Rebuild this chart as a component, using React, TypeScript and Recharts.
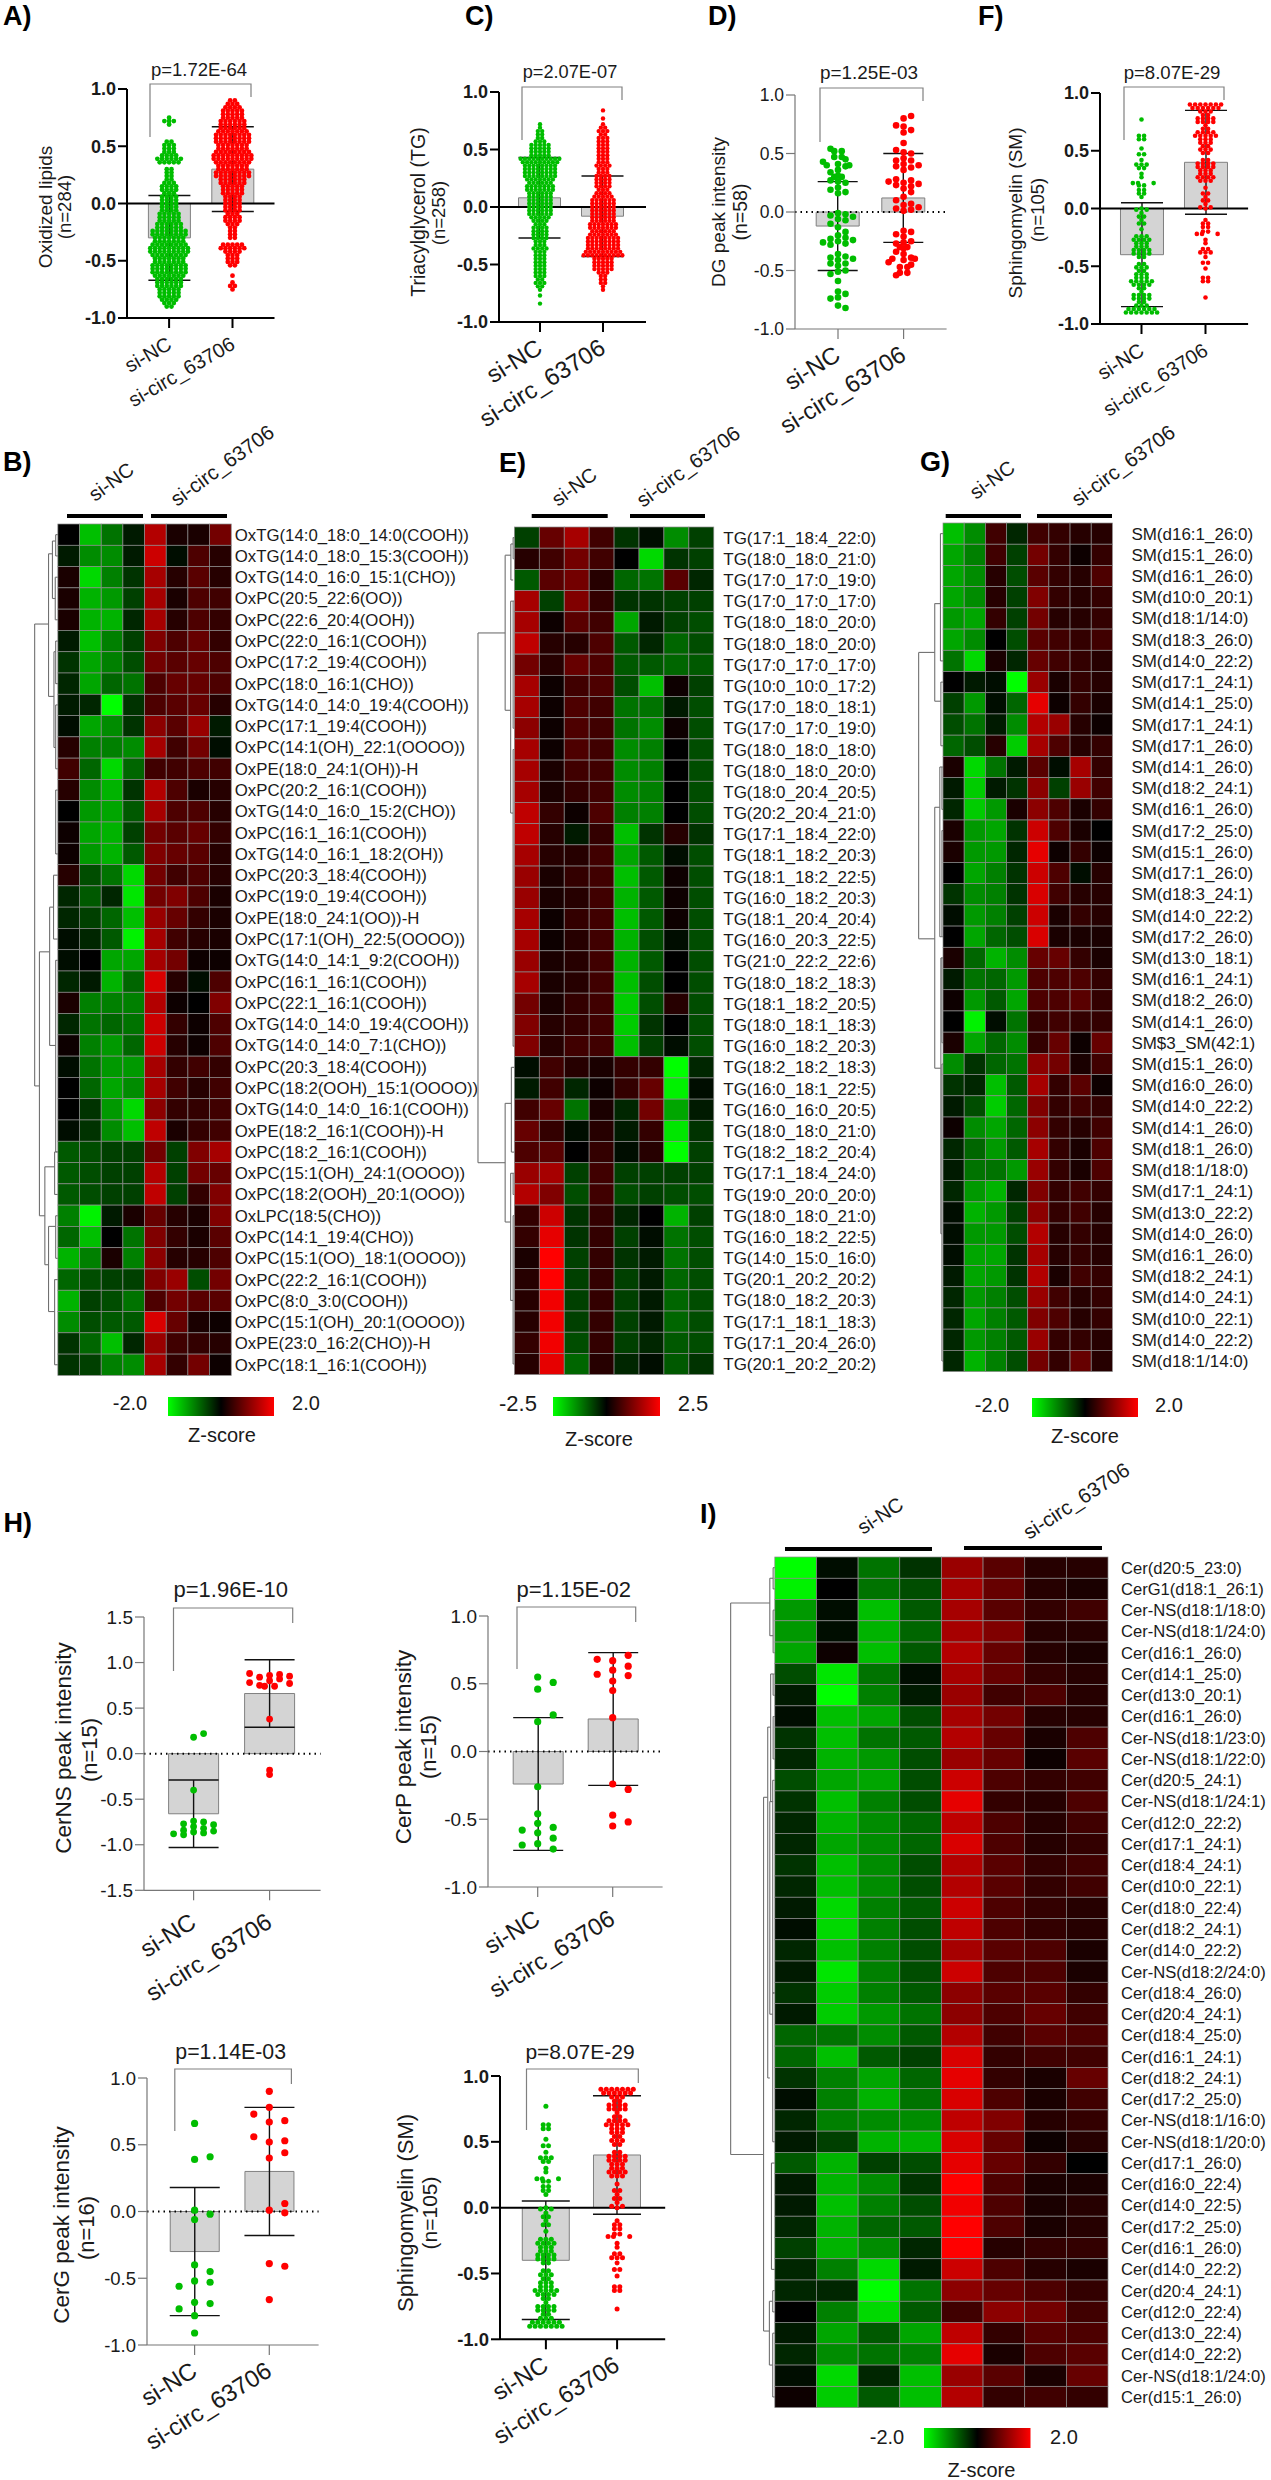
import React from "react";
import { ComposedChart, ScatterChart, Bar, Scatter, ErrorBar, XAxis, YAxis, ReferenceLine } from "recharts";

const FONT = "'Liberation Sans', Arial, sans-serif";
const GREEN = "#00bd00";
const RED = "#ff0000";
const groups = ["si-NC", "si-circ_63706"];

// ---- swarm values: [level in hundredths, number of dots read at that level]
const aNcRows = [[-90,2],[-87,3],[-84,4],[-81,5],[-78,5],[-75,5],[-72,6],[-69,6],[-66,6],[-63,7],[-60,8],[-57,8],[-54,8],[-51,7],[-48,7],[-45,8],[-42,9],[-39,9],[-36,8],[-33,7],[-30,7],[-27,8],[-24,8],[-21,6],[-18,6],[-15,5],[-12,5],[-9,5],[-6,4],[-3,4],[0,4],[3,4],[6,4],[9,3],[12,4],[15,4],[18,3],[21,2],[24,2],[27,2],[30,2],[36,5],[39,6],[42,4],[45,3],[48,3],[51,3],[54,2],[69,1],[72,3],[75,1]];
const aCircRows = [[90,2],[87,3],[84,4],[81,5],[78,5],[75,5],[72,6],[69,6],[66,6],[63,7],[60,8],[57,8],[54,8],[51,7],[48,7],[45,8],[42,9],[39,9],[36,8],[33,7],[30,7],[27,8],[24,8],[21,6],[18,6],[15,5],[12,5],[9,5],[6,4],[3,4],[0,4],[-3,4],[-6,4],[-9,3],[-12,4],[-15,4],[-18,3],[-21,2],[-24,2],[-27,2],[-30,2],[-36,5],[-39,6],[-42,4],[-45,3],[-48,3],[-51,3],[-54,2],[-63,1],[-69,1],[-72,2],[-75,1]];
const cNcRows = [[72,1],[69,1],[66,2],[63,2],[60,2],[57,3],[54,5],[51,5],[48,5],[45,5],[42,10],[39,9],[36,8],[33,8],[30,8],[27,8],[24,7],[21,6],[18,7],[15,7],[12,6],[9,6],[6,6],[3,6],[0,6],[-3,6],[-6,6],[-9,5],[-12,4],[-15,3],[-18,4],[-21,4],[-24,4],[-27,4],[-30,3],[-33,3],[-36,4],[-39,3],[-42,3],[-45,3],[-48,3],[-51,3],[-54,3],[-57,3],[-60,3],[-63,2],[-66,3],[-69,2],[-72,1],[-77,1],[-84,1]];
const cCircRows = [[84,1],[77,1],[72,1],[69,2],[66,3],[63,2],[60,3],[57,3],[54,3],[51,3],[48,3],[45,3],[42,3],[39,3],[36,4],[33,3],[30,3],[27,4],[24,4],[21,4],[18,4],[15,3],[12,4],[9,5],[6,6],[3,6],[0,6],[-3,6],[-6,6],[-9,6],[-12,6],[-15,7],[-18,7],[-21,6],[-24,7],[-27,8],[-30,8],[-33,8],[-36,8],[-39,9],[-42,10],[-45,5],[-48,5],[-51,5],[-54,5],[-57,3],[-60,2],[-63,2],[-66,2],[-69,1],[-72,1]];
const fNcRows = [[77,1],[63,2],[60,2],[52,1],[47,2],[42,1],[38,3],[35,2],[30,1],[27,1],[22,3],[20,2],[16,2],[13,2],[10,1],[0,1],[-1,2],[-4,1],[-7,2],[-10,1],[-13,2],[-18,1],[-24,3],[-27,4],[-30,3],[-33,3],[-36,4],[-39,4],[-42,2],[-48,2],[-51,3],[-54,2],[-57,3],[-60,3],[-63,5],[-66,4],[-69,2],[-72,1],[-75,4],[-78,4],[-81,2],[-84,3],[-87,6],[-90,7]];
const fCircRows = [[90,7],[87,6],[84,3],[81,2],[78,4],[75,4],[72,1],[69,2],[66,4],[63,5],[60,3],[57,3],[54,2],[51,3],[48,2],[42,2],[39,4],[36,4],[33,3],[30,3],[27,4],[24,3],[18,1],[13,2],[10,1],[7,2],[4,1],[1,2],[0,1],[-10,1],[-13,2],[-16,2],[-20,2],[-22,3],[-27,1],[-30,1],[-35,2],[-38,3],[-42,1],[-47,2],[-52,1],[-60,2],[-63,2],[-77,1]];
const dNcValues = [.54,.52,.52,.47,.47,.45,.43,.41,.40,.40,.39,.36,.34,.31,.30,.30,.27,.26,.25,.21,.19,.17,.16,-.01,-.02,-.03,-.04,-.06,-.07,-.10,-.13,-.17,-.20,-.22,-.23,-.24,-.25,-.26,-.27,-.28,-.36,-.38,-.39,-.40,-.41,-.44,-.44,-.46,-.50,-.51,-.53,-.59,-.68,-.70,-.73,-.74,-.80,-.82];
const dCircValues = [.82,.80,.74,.73,.70,.68,.59,.53,.51,.50,.46,.44,.44,.41,.40,.39,.38,.36,.28,.27,.26,.25,.24,.23,.22,.20,.17,.13,.10,.07,.06,.04,.03,.02,.01,-.16,-.17,-.19,-.21,-.25,-.26,-.27,-.30,-.30,-.31,-.34,-.36,-.39,-.40,-.40,-.41,-.43,-.45,-.47,-.47,-.52,-.52,-.54];
const h1NcValues = [.22,.18,-.40,-.74,-.75,-.77,-.78,-.80,-.82,-.84,-.85,-.86,-.87,-.88,-.89];
const h1CircValues = [.88,.87,.86,.85,.84,.82,.80,.78,.77,.75,.74,.74,.38,-.18,-.23];
const h2NcValues = [.55,.51,.46,.27,.22,-.26,-.46,-.53,-.56,-.58,-.60,-.64,-.68,-.69,-.72];
const h2CircValues = [.71,.68,.67,.63,.60,.57,.56,.52,.45,.25,-.24,-.28,-.47,-.52,-.55];
const h3NcValues = [.66,.41,.39,.01,-.02,-.06,-.40,-.45,-.52,-.53,-.56,-.68,-.69,-.73,-.78,-.91];
const h3CircValues = [.90,.78,.73,.68,.67,.56,.53,.52,.44,.40,.06,.01,-.01,-.39,-.41,-.66];

// ---- heatmap labels and levels (-20 full green ... 20 full red)
const bLabels = ["OxTG(14:0_18:0_14:0(COOH))","OxTG(14:0_18:0_15:3(COOH))","OxTG(14:0_16:0_15:1(CHO))","OxPC(20:5_22:6(OO))","OxPC(22:6_20:4(OOH))","OxPC(22:0_16:1(COOH))","OxPC(17:2_19:4(COOH))","OxPC(18:0_16:1(CHO))","OxTG(14:0_14:0_19:4(COOH))","OxPC(17:1_19:4(COOH))","OxPC(14:1(OH)_22:1(OOOO))","OxPE(18:0_24:1(OH))-H","OxPC(20:2_16:1(COOH))","OxTG(14:0_16:0_15:2(CHO))","OxPC(16:1_16:1(COOH))","OxTG(14:0_16:1_18:2(OH))","OxPC(20:3_18:4(COOH))","OxPC(19:0_19:4(COOH))","OxPE(18:0_24:1(OO))-H","OxPC(17:1(OH)_22:5(OOOO))","OxTG(14:0_14:1_9:2(COOH))","OxPC(16:1_16:1(COOH))","OxPC(22:1_16:1(COOH))","OxTG(14:0_14:0_19:4(COOH))","OxTG(14:0_14:0_7:1(CHO))","OxPC(20:3_18:4(COOH))","OxPC(18:2(OOH)_15:1(OOOO))","OxTG(14:0_14:0_16:1(COOH))","OxPE(18:2_16:1(COOH))-H","OxPC(18:2_16:1(COOH))","OxPC(15:1(OH)_24:1(OOOO))","OxPC(18:2(OOH)_20:1(OOO))","OxLPC(18:5(CHO))","OxPC(14:1_19:4(CHO))","OxPC(15:1(OO)_18:1(OOOO))","OxPC(22:2_16:1(COOH))","OxPC(8:0_3:0(COOH))","OxPC(15:1(OH)_20:1(OOOO))","OxPE(23:0_16:2(CHO))-H","OxPC(18:1_16:1(COOH))"];
const bLevels = [[0,-15,-9,-2,14,2,2,9],[-2,-11,-11,-2,16,-1,6,3],[2,-17,-10,-4,13,3,7,3],[2,-14,-12,-5,13,2,6,5],[2,-14,-14,-3,13,3,6,4],[-2,-15,-10,-5,10,6,8,4],[-4,-13,-10,-6,9,7,8,6],[-3,-13,-8,-9,6,8,8,6],[-2,-3,-20,-4,6,7,8,3],[-1,-13,-11,-4,11,7,12,-2],[3,-10,-10,-11,13,5,9,-1],[5,-8,-17,-8,5,5,6,5],[3,-11,-14,-4,14,6,2,3],[0,-12,-13,-7,13,6,6,3],[1,-13,-14,-5,9,7,8,4],[1,-12,-14,-7,10,8,7,3],[3,-6,-9,-17,9,5,6,3],[-3,-7,-3,-18,9,10,6,2],[-3,-5,-8,-15,12,8,4,2],[-1,-3,-7,-19,13,5,3,2],[-1,0,-13,-13,13,9,1,1],[-3,-2,-14,-8,17,3,-1,6],[2,-10,-10,-10,14,1,0,10],[-3,-9,-8,-9,16,4,1,6],[1,-10,-12,-8,16,3,1,6],[-1,-9,-12,-12,13,4,5,4],[0,-8,-13,-11,13,5,3,5],[0,-4,-12,-17,11,4,4,5],[-1,-4,-11,-15,15,2,4,5],[-7,-6,-5,-5,9,-5,10,13],[-7,-6,-5,-5,14,-5,9,8],[-7,-6,-5,-5,15,-5,4,10],[-10,-19,-2,2,8,3,2,10],[-8,-15,0,-9,10,4,2,7],[-14,-10,2,-10,11,3,3,6],[-8,-6,-5,-5,10,12,-6,9],[-14,-5,-6,-9,6,9,7,7],[-11,-6,-7,-7,17,8,2,1],[-4,-8,-15,-3,12,5,4,3],[-4,-5,-10,-11,13,4,9,1]];
const eLabels = ["TG(17:1_18:4_22:0)","TG(18:0_18:0_21:0)","TG(17:0_17:0_19:0)","TG(17:0_17:0_17:0)","TG(18:0_18:0_20:0)","TG(18:0_18:0_20:0)","TG(17:0_17:0_17:0)","TG(10:0_10:0_17:2)","TG(17:0_18:0_18:1)","TG(17:0_17:0_19:0)","TG(18:0_18:0_18:0)","TG(18:0_18:0_20:0)","TG(18:0_20:4_20:5)","TG(20:2_20:4_21:0)","TG(17:1_18:4_22:0)","TG(18:1_18:2_20:3)","TG(18:1_18:2_22:5)","TG(16:0_18:2_20:3)","TG(18:1_20:4_20:4)","TG(16:0_20:3_22:5)","TG(21:0_22:2_22:6)","TG(18:0_18:2_18:3)","TG(18:1_18:2_20:5)","TG(18:0_18:1_18:3)","TG(16:0_18:2_20:3)","TG(18:2_18:2_18:3)","TG(16:0_18:1_22:5)","TG(16:0_16:0_20:5)","TG(18:0_18:0_21:0)","TG(18:2_18:2_20:4)","TG(17:1_18:4_24:0)","TG(19:0_20:0_20:0)","TG(18:0_18:0_21:0)","TG(16:0_18:2_22:5)","TG(14:0_15:0_16:0)","TG(20:1_20:2_20:2)","TG(18:0_18:2_20:3)","TG(17:1_18:1_18:3)","TG(17:1_20:4_26:0)","TG(20:1_20:2_20:2)"];
const eLevels = [[-5,8,13,5,-4,-1,-11,-5],[3,5,9,5,0,-17,-4,-5],[-7,7,9,3,-8,-9,7,-3],[13,-5,10,4,-4,-4,-5,-5],[13,1,7,5,-13,-2,-5,-6],[15,3,3,6,-7,-3,-8,-6],[9,3,8,6,-7,-7,-8,-7],[13,1,5,6,-6,-15,1,-5],[13,1,6,5,-9,-9,-2,-6],[11,1,6,5,-9,-11,1,-6],[13,1,6,5,-11,-10,0,-6],[13,2,5,5,-11,-10,0,-6],[13,2,4,5,-11,-10,0,-6],[15,4,1,6,-10,-10,0,-6],[15,3,-2,4,-15,-4,3,-4],[13,3,3,5,-13,-7,-1,-6],[12,2,4,5,-15,-7,1,-6],[12,2,3,5,-14,-7,1,-6],[13,1,4,5,-15,-7,1,-6],[13,1,3,5,-14,-6,-1,-6],[12,2,3,5,-14,-7,0,-6],[13,2,3,5,-15,-6,0,-6],[9,2,4,5,-16,-6,3,-6],[10,3,4,5,-16,-4,0,-6],[10,3,5,5,-15,-5,-1,-6],[-1,5,3,2,4,4,-20,-3],[-2,5,-3,1,4,8,-19,-1],[5,8,-9,2,-3,9,-13,-2],[8,4,-1,3,-2,4,-18,-4],[6,7,0,4,-1,3,-20,-5],[12,13,-5,5,-5,-5,-5,-5],[14,10,-6,5,-6,-5,-6,-6],[4,16,-4,4,-3,0,-14,-5],[4,18,-4,4,-5,-1,-9,-6],[2,20,-5,4,-4,-2,-9,-6],[3,20,-5,4,-5,-2,-8,-6],[3,19,-5,4,-5,-2,-8,-6],[3,19,-5,4,-5,-2,-8,-6],[4,19,-6,4,-5,-3,-7,-6],[3,18,-8,3,-3,-1,-7,-4]];
const gLabels = ["SM(d16:1_26:0)","SM(d15:1_26:0)","SM(d16:1_26:0)","SM(d10:0_20:1)","SM(d18:1/14:0)","SM(d18:3_26:0)","SM(d14:0_22:2)","SM(d17:1_24:1)","SM(d14:1_25:0)","SM(d17:1_24:1)","SM(d17:1_26:0)","SM(d14:1_26:0)","SM(d18:2_24:1)","SM(d16:1_26:0)","SM(d17:2_25:0)","SM(d15:1_26:0)","SM(d17:1_26:0)","SM(d18:3_24:1)","SM(d14:0_22:2)","SM(d17:2_26:0)","SM(d13:0_18:1)","SM(d16:1_24:1)","SM(d18:2_26:0)","SM(d14:1_26:0)","SM$3_SM(42:1)","SM(d15:1_26:0)","SM(d16:0_26:0)","SM(d14:0_22:2)","SM(d14:1_26:0)","SM(d18:1_26:0)","SM(d18:1/18:0)","SM(d17:1_24:1)","SM(d13:0_22:2)","SM(d14:0_26:0)","SM(d16:1_26:0)","SM(d18:2_24:1)","SM(d14:0_24:1)","SM(d10:0_22:1)","SM(d14:0_22:2)","SM(d18:1/14:0)"];
const gLevels = [[-15,-11,5,-3,5,4,3,3],[-13,-10,5,-5,9,4,1,4],[-13,-11,3,-6,7,4,3,6],[-13,-11,3,-5,10,4,3,4],[-12,-13,4,-5,9,3,3,4],[-13,-11,0,-6,7,5,4,5],[-9,-17,2,-3,8,5,4,3],[0,-2,-1,-20,12,2,4,3],[-5,-12,-1,-8,18,1,4,2],[-6,-9,-2,-11,14,12,3,1],[-8,-6,3,-16,13,6,3,4],[2,-17,-9,-2,7,-1,13,4],[-2,-16,-2,-4,11,-5,12,5],[-3,-16,-12,2,11,6,2,4],[2,-12,-13,-4,16,6,2,0],[2,-12,-12,-3,18,1,4,1],[0,-13,-10,-4,16,6,-1,3],[-4,-11,-10,-4,17,5,3,3],[-1,-12,-10,-5,16,2,4,3],[0,-13,-8,-6,17,2,2,2],[2,-8,-14,-11,8,8,4,2],[-2,-9,-8,-12,6,6,6,4],[1,-12,-7,-13,6,6,7,4],[0,-19,-1,-9,4,5,4,4],[2,-13,-8,-11,4,8,1,8],[-11,-4,-8,-9,11,9,2,5],[-4,-3,-15,-7,13,4,7,1],[-2,-6,-16,-8,10,4,5,4],[1,-11,-13,-8,11,4,3,5],[-3,-8,-12,-7,13,4,2,6],[-2,-9,-9,-12,12,4,2,6],[-3,-12,-14,-3,10,4,5,4],[-1,-14,-12,-5,11,4,5,3],[-1,-12,-12,-6,14,3,4,3],[-1,-13,-13,-4,13,3,4,3],[-2,-13,-12,-4,14,2,5,4],[-3,-12,-10,-6,12,5,3,4],[-3,-13,-10,-7,10,6,3,4],[-3,-12,-10,-7,12,4,4,3],[-3,-14,-10,-6,9,4,8,3]];
const iLabels = ["Cer(d20:5_23:0)","CerG1(d18:1_26:1)","Cer-NS(d18:1/18:0)","Cer-NS(d18:1/24:0)","Cer(d16:1_26:0)","Cer(d14:1_25:0)","Cer(d13:0_20:1)","Cer(d16:1_26:0)","Cer-NS(d18:1/23:0)","Cer-NS(d18:1/22:0)","Cer(d20:5_24:1)","Cer-NS(d18:1/24:1)","Cer(d12:0_22:2)","Cer(d17:1_24:1)","Cer(d18:4_24:1)","Cer(d10:0_22:1)","Cer(d18:0_22:4)","Cer(d18:2_24:1)","Cer(d14:0_22:2)","Cer-NS(d18:2/24:0)","Cer(d18:4_26:0)","Cer(d20:4_24:1)","Cer(d18:4_25:0)","Cer(d16:1_24:1)","Cer(d18:2_24:1)","Cer(d17:2_25:0)","Cer-NS(d18:1/16:0)","Cer-NS(d18:1/20:0)","Cer(d17:1_26:0)","Cer(d16:0_22:4)","Cer(d14:0_22:5)","Cer(d17:2_25:0)","Cer(d16:1_26:0)","Cer(d14:0_22:2)","Cer(d20:4_24:1)","Cer(d12:0_22:4)","Cer(d13:0_22:4)","Cer(d14:0_22:2)","Cer-NS(d18:1/24:0)","Cer(d15:1_26:0)"];
const iLevels = [[-20,-1,-9,-4,12,7,3,3],[-19,0,-9,-6,13,8,3,2],[-12,-1,-15,-7,13,7,4,5],[-12,-1,-14,-8,13,10,3,3],[-13,1,-15,-7,14,8,3,2],[-6,-18,-9,-1,13,8,4,3],[-2,-20,-10,-2,12,5,6,3],[-1,-15,-13,-6,13,9,3,3],[-4,-15,-9,-7,14,8,2,6],[-3,-14,-12,-6,12,8,1,7],[-6,-13,-13,-6,16,6,4,5],[-4,-15,-10,-6,18,4,3,6],[-3,-14,-11,-8,15,6,3,5],[-3,-13,-11,-8,17,6,3,4],[-4,-15,-11,-6,14,7,4,5],[-3,-15,-11,-6,14,7,4,5],[-2,-17,-10,-7,16,6,4,3],[-1,-17,-10,-6,15,6,4,3],[-3,-15,-10,-6,13,7,6,2],[-2,-18,-10,-6,16,6,6,2],[-4,-16,-10,-7,11,7,7,4],[-2,-16,-12,-9,11,6,8,5],[-8,-9,-11,-7,14,5,7,6],[-8,-15,-7,-5,17,4,5,5],[-4,-10,-13,-8,18,4,2,8],[-1,-10,-14,-9,17,6,2,5],[-3,-10,-11,-11,15,10,3,4],[-2,-5,-14,-14,17,8,1,3],[-7,-14,-5,-6,18,8,4,0],[-2,-14,-11,-4,20,6,2,2],[-2,-15,-10,-6,19,6,2,3],[-3,-14,-8,-7,20,6,2,3],[-5,-14,-11,-3,20,3,4,4],[-3,-10,-17,-2,16,6,3,2],[-3,-3,-20,-9,11,8,6,4],[0,-10,-17,-7,5,11,9,5],[-2,-13,-7,-13,15,4,7,6],[-3,-11,-9,-10,18,2,6,7],[-1,-17,-3,-15,12,7,2,8],[1,-16,-7,-15,14,4,5,4]];

// ---- dendrogram brackets: [depth, first row, last row, depth of first child, depth of last child]
const bTree = [[1.07,4.2,25.9,.43,.85],[.43,.9,7.6,.25,.18],[.25,.3,3,.1,.12],[.1,0,1,0,0],[.12,2,4,0,0],[.18,5.5,10,.1,.1],[.1,5,7,0,0],[.1,8,11,0,0],[.1,12,15,0,0],[.85,19.6,32,.38,.6],[.38,17.5,24,.2,.1],[.2,16,19,0,0],[.1,20,29,0,0],[.6,29.7,34.3,.15,.43],[.15,29,31,0,0],[.43,32.5,36.5,.1,.15],[.1,32,34,0,0],[.15,35,39,0,0]];
const eTree = [[1.46,4.5,29.5,.37,.37],[.37,.83,8.15,.14,.15],[.14,.3,2,.05,.05],[.05,0,1,0,0],[.15,3,13,.05,.05],[.05,3,9,0,0],[.05,10,24,0,0],[.37,26.7,32.3,.12,.15],[.12,25,29,0,0],[.15,30,36,.05,.05],[.05,30,31,0,0],[.05,32,39,0,0]];
const gTree = [[1.15,5.6,19.1,.39,.39],[.39,3.3,7.9,.12,.1],[.12,0,6,0,0],[.1,7,10,0,0],[.39,12.9,25.2,.15,.1],[.15,11,19,.05,.05],[.05,11,13,0,0],[.05,14,19,0,0],[.1,20,33,.05,.05],[.05,20,24,0,0],[.05,25,39,0,0]];
const iTree = [[1.06,1.66,27.6,.12,.27],[.12,.5,3.2,.04,.04],[.04,0,1,0,0],[.04,2,4,0,0],[.27,10.8,35.9,.17,.13],[.17,7.5,24,.1,.12],[.1,5,11,.04,.04],[.04,5,6,0,0],[.04,7,9,0,0],[.12,11,21,.05,.05],[.05,10,20,0,0],[.05,20,27,0,0],[.08,28,33,0,0],[.13,34.5,37.5,.05,.05],[.05,34,35,0,0],[.05,36,39,0,0]];

const expand = (rows: number[][]) => rows.flatMap(([lv, c]) => Array(c).fill(lv / 100));

// beeswarm layout: every dot takes the slot nearest the centre that is free at its height;
// dots that share one height are then centred on the group, as a swarm plot does
function swarm(values: number[], group: number, slotUnits: number, clear: number) {
  const taken = new Map<number, number[]>();
  const sorted = [...values].sort((a, b) => Math.abs(a) - Math.abs(b));
  const placed = sorted.map((y) => {
    for (let k = 0; ; k++) {
      const slot = k === 0 ? 0 : k % 2 ? (k + 1) / 2 : -k / 2;
      const used = taken.get(slot) || [];
      if (!used.some((u) => Math.abs(u - y) < clear)) {
        used.push(y);
        taken.set(slot, used);
        return { slot, y };
      }
    }
  });
  const rows = new Map<number, number[]>();
  placed.forEach((d) => rows.set(d.y, [...(rows.get(d.y) || []), d.slot]));
  return placed.map((d) => {
    const same = rows.get(d.y) as number[];
    const shift = same.length > 1 ? same.reduce((a, b) => a + b, 0) / same.length : 0;
    return { x: group + (d.slot - shift) * slotUnits, y: d.y };
  });
}

const LW = 70;
const XH = 120;

function BarPanel(p: any) {
  const unit = p.t2 - p.t1;
  const d0 = 1 - (p.t1 - p.X) / unit;
  const d1 = 2 + (p.End - p.t2) / unit;
  const w = LW + (p.End - p.X) + 6;
  const h = p.B - p.T + 10 + XH;
  const slotU = p.slot / unit;
  const nc = swarm(p.nc, 1, slotU, p.clear);
  const circ = swarm(p.circ, 2, slotU, p.clear);
  const rows = [
    { x: 1, mean: p.means[0], err: p.sd },
    { x: 2, mean: p.means[1], err: p.sd },
  ];
  const axisStyle = p.bold ? { stroke: "#000", strokeWidth: 2 } : { stroke: "#777", strokeWidth: 1.2 };
  const dot = (color: string) => (s: any) => <circle cx={s.cx} cy={s.cy} r={p.r} fill={color} />;
  const xTick = (t: any) => (
    <text
      x={t.x + p.lx}
      y={t.y + p.ly}
      transform={`rotate(${p.rot ?? -32} ${t.x + p.lx} ${t.y + p.ly})`}
      textAnchor="end"
      fontFamily={FONT}
      fontSize={p.xFont}
      fill="#1a1a1a"
    >
      {groups[t.payload.value - 1]}
    </text>
  );
  return (
    <div style={{ position: "absolute", left: p.X - LW, top: p.T - 10, width: w, height: h }}>
      <ComposedChart width={w} height={h} data={rows} margin={{ top: 10, right: 6, bottom: 0, left: 0 }}>
        <XAxis type="number" dataKey="x" domain={[d0, d1]} ticks={[1, 2]} interval={0} height={XH} tick={xTick} tickSize={10} axisLine={axisStyle} tickLine={axisStyle} />
        <XAxis xAxisId="swarm" type="number" dataKey="x" domain={[d0, d1]} hide />
        <YAxis
          type="number"
          dataKey="y"
          domain={p.domain}
          ticks={p.ticks}
          interval={0}
          width={LW}
          tickSize={9}
          tickMargin={2}
          axisLine={axisStyle}
          tickLine={axisStyle}
          tickFormatter={(v: number) => v.toFixed(1)}
          tick={{ fontFamily: FONT, fontSize: p.tickFont, fontWeight: p.bold ? 700 : 400, fill: "#1a1a1a" }}
        />
        <Bar dataKey="mean" barSize={p.barW} fill="#d4d4d4" stroke="#808080" strokeWidth={1} isAnimationActive={false}>
          <ErrorBar dataKey="err" width={p.cap} stroke="#111" strokeWidth={1.4} direction="y" isAnimationActive={false} />
        </Bar>
        <ReferenceLine y={0} stroke="#000" strokeWidth={2} strokeDasharray={p.bold ? undefined : "1.5 4"} />
        <Scatter xAxisId="swarm" data={nc} dataKey="y" shape={dot(GREEN)} isAnimationActive={false} />
        <Scatter xAxisId="swarm" data={circ} dataKey="y" shape={dot(RED)} isAnimationActive={false} />
      </ComposedChart>
    </div>
  );
}

const heatColor = (v: number) => {
  const g = Math.round((Math.abs(v) / 20) * 255);
  return v < 0 ? `rgb(0,${g},0)` : `rgb(${g},0,0)`;
};

function HeatPanel(p: any) {
  const ext = 1.7;
  const cw = (p.right - p.left) / 8;
  const n = p.labels.length;
  const rh = (p.bottom - p.top) / n;
  const plotW = (ext + 8) * cw;
  const axisW = 1271 - p.right - 1;
  const w = plotW + axisW;
  const h = p.bottom - p.top + 4;
  const cells = p.levels.flatMap((row: number[], r: number) => row.map((v, c) => ({ col: c, row: r, v })));
  const shape = (s: any) => (
    <rect x={s.cx - cw / 2} y={s.cy - rh / 2} width={cw} height={rh} fill={heatColor(s.payload.v)} stroke="#8c8c8c" strokeWidth={0.7} />
  );
  const segs = p.tree.flatMap(([d, a, b, da, db]: number[]) => [
    [-0.5 - d, a, -0.5 - d, b],
    [-0.5 - d, a, -0.5 - da, a],
    [-0.5 - d, b, -0.5 - db, b],
  ]);
  const ticks = p.labels.map((_: string, i: number) => i);
  return (
    <div style={{ position: "absolute", left: p.left - ext * cw, top: p.top - 2, width: w, height: h }}>
      <ScatterChart width={w} height={h} margin={{ top: 2, right: 0, bottom: 2, left: 0 }}>
        <XAxis type="number" dataKey="col" domain={[-0.5 - ext, 7.5]} hide />
        <YAxis
          type="number"
          dataKey="row"
          orientation="right"
          reversed
          domain={[-0.5, n - 0.5]}
          ticks={ticks}
          interval={0}
          width={axisW}
          axisLine={false}
          tickLine={false}
          tickSize={0}
          tickMargin={p.gap}
          tickFormatter={(i: number) => p.labels[i]}
          tick={{ fontFamily: FONT, fontSize: p.font, fill: "#1a1a1a", textAnchor: "start" }}
        />
        <Scatter data={cells} dataKey="row" shape={shape} isAnimationActive={false} />
        {segs.map((s: number[], i: number) => (
          <ReferenceLine key={i} segment={[{ x: s[0], y: s[1] }, { x: s[2], y: s[3] }]} stroke="#707070" strokeWidth={1.1} ifOverflow="visible" />
        ))}
      </ScatterChart>
    </div>
  );
}

const barPanels: any[] = [
  { X:126.5,End:274,T:89,B:318,t1:168.6,t2:232,barW:42,cap:21,nc:expand(aNcRows),circ:expand(aCircRows),means:[-.3,.3],sd:.37,r:2.4,slot:4.7,clear:.029,bold:true,domain:[-1,1],ticks:[-1,-.5,0,.5,1],tickFont:18,xFont:20,lx:4,ly:18,rot:-30 },
  { X:499,End:646,T:92,B:322,t1:540,t2:603,barW:42,cap:21,nc:expand(cNcRows),circ:expand(cCircRows),means:[.08,-.08],sd:.35,r:2.2,slot:4.3,clear:.029,bold:true,domain:[-1,1],ticks:[-1,-.5,0,.5,1],tickFont:18,xFont:24,lx:4,ly:18 },
  { X:795,End:946.6,T:95,B:329,t1:838,t2:903.6,barW:43,cap:20,nc:dNcValues,circ:dCircValues,means:[-.12,.12],sd:.38,r:3.3,slot:7.5,clear:.045,bold:false,domain:[-1,1],ticks:[-1,-.5,0,.5,1],tickFont:17.5,xFont:24,lx:4,ly:18 },
  { X:1099.5,End:1247.6,T:93,B:324,t1:1141,t2:1205,barW:43,cap:21,nc:expand(fNcRows),circ:expand(fCircRows),means:[-.4,.4],sd:.45,r:2.3,slot:5.2,clear:.029,bold:true,domain:[-1,1],ticks:[-1,-.5,0,.5,1],tickFont:18,xFont:20,lx:4,ly:18 },
  { X:144.4,End:321,T:1616.7,B:1890,t1:194,t2:270,barW:50,cap:25,nc:h1NcValues,circ:h1CircValues,means:[-.66,.66],sd:.37,r:3.4,slot:10,clear:.05,bold:false,domain:[-1.5,1.5],ticks:[-1.5,-1,-.5,0,.5,1,1.5],tickFont:19,xFont:24,lx:4,ly:24 },
  { X:488,End:662.6,T:1615.7,B:1886.7,t1:537.7,t2:612.7,barW:50,cap:25,nc:h2NcValues,circ:h2CircValues,means:[-.24,.24],sd:.49,r:3.6,slot:15.5,clear:.065,bold:false,domain:[-1,1],ticks:[-1,-.5,0,.5,1],tickFont:19,xFont:24,lx:4,ly:24 },
  { X:147.4,End:319,T:2078,B:2345,t1:195,t2:269.7,barW:49,cap:25,nc:h3NcValues,circ:h3CircValues,means:[-.3,.3],sd:.48,r:3.6,slot:15.5,clear:.065,bold:false,domain:[-1,1],ticks:[-1,-.5,0,.5,1],tickFont:18.5,xFont:24,lx:4,ly:18 },
  { X:499.6,End:664.8,T:2075.7,B:2339,t1:545.5,t2:616.7,barW:47,cap:24,nc:expand(fNcRows),circ:expand(fCircRows),means:[-.4,.4],sd:.45,r:2.5,slot:5.4,clear:.029,bold:true,domain:[-1,1],ticks:[-1,-.5,0,.5,1],tickFont:18.5,xFont:24,lx:4,ly:18 },
];

const heatPanels: any[] = [
  { left:58.3,right:231.7,top:524.3,bottom:1375.7,labels:bLabels,levels:bLevels,tree:bTree,gap:3.5,font:16.8 },
  { left:514.3,right:713.7,top:526.7,bottom:1374.3,labels:eLabels,levels:eLevels,tree:eTree,gap:9.5,font:17 },
  { left:943.3,right:1112.7,top:522.7,bottom:1371.3,labels:gLabels,levels:gLevels,tree:gTree,gap:19,font:17 },
  { left:775,right:1108.2,top:1556.7,bottom:2407.3,labels:iLabels,levels:iLevels,tree:iTree,gap:13,font:16.6 },
];

// ---- annotation text
const letters = [["A)",3,25],["C)",465,25],["D)",708,25],["F)",978,25],["B)",3,471],["E)",499,472],["G)",920,471],["H)",3.5,1532],["I)",700,1523]];
const pLabels = [["p=1.72E-64",199,76,18.5],["p=2.07E-07",570,78,18.2],["p=1.25E-03",869,79,18.9],["p=8.07E-29",1172,79,18.6],["p=1.96E-10",230.7,1597,22],["p=1.15E-02",573.7,1597,22],["p=1.14E-03",230.7,2059,21.3],["p=8.07E-29",580,2059,21]];
const brackets = [[150,251,84,137,97],[522,622,87,140,100],[820,923,88,142,101],[1124,1224,87,140,100],[173.5,292.7,1608,1671,1623],[517,635.7,1607,1669,1622],[174.8,291.4,2069,2131,2084],[526.5,638.3,2069,2130,2083]];
const yLabels = [["Oxidized lipids",45,207,19],["(n=284)",65,207,18.5],["Triacylglycerol (TG)",418,212,19.5],["(n=258)",439,213,18.5],["DG peak intensity",718,212,19],["(n=58)",740.6,212,19.5],["Sphingomyelin (SM)",1015,213,19],["(n=105)",1037.6,210,18.5],["CerNS peak intensity",63,1748,22.5],["(n=15)",89,1750,22],["CerP peak intensity",403,1747,22.5],["(n=15)",428,1747,22],["CerG peak intensity",61.6,2225,22.5],["(n=16)",86,2228,22],["Sphingomyelin (SM)",405.5,2213,22],["(n=105)",430,2213,21]];
const headers = [["si-NC",95,502,-36,20],["si-circ_63706",177,507,-36,20.5],["si-NC",558,507,-36,20],["si-circ_63706",643,508,-36,20.5],["si-NC",976,500,-36,20],["si-circ_63706",1078,507,-36,20.5],["si-NC",863,1535,-33,20],["si-circ_63706",1029,1540,-33,20.5]];
const groupBars = [[67,143,516],[151,227,516],[531.7,607.7,516],[630,705,516],[945.7,1021,516],[1037,1112,516],[785,932,1549],[964,1102,1548]];
const colorBars = [
  [168,274,1397,1416,"-2.0","2.0",130,306,1410,222,1442,20],
  [553,660,1397,1416,"-2.5","2.5",518,693,1411,599,1446,22],
  [1032,1138,1398,1417,"-2.0","2.0",992,1169,1412,1085,1443,20],
  [924,1030.5,2428,2448,"-2.0","2.0",887,1064,2444,981.5,2477,20],
];

function Overlay() {
  const t = { fontFamily: FONT, fill: "#1a1a1a" };
  return (
    <svg width={1271} height={2480} style={{ position: "absolute", left: 0, top: 0, pointerEvents: "none" }}>
      <defs>
        <linearGradient id="zs" x1="0" x2="1" y1="0" y2="0">
          <stop offset="0" stopColor="#00ff00" />
          <stop offset="0.5" stopColor="#000000" />
          <stop offset="1" stopColor="#ff0000" />
        </linearGradient>
      </defs>
      {letters.map((l: any, i) => (
        <text key={i} x={l[1]} y={l[2]} {...t} fill="#000" fontSize={27} fontWeight={700}>{l[0]}</text>
      ))}
      {pLabels.map((l: any, i) => (
        <text key={i} x={l[1]} y={l[2]} {...t} fontSize={l[3]} textAnchor="middle">{l[0]}</text>
      ))}
      {brackets.map((b: any, i) => (
        <path key={i} d={`M${b[0]} ${b[3]}V${b[2]}H${b[1]}V${b[4]}`} fill="none" stroke="#808080" strokeWidth={1.2} />
      ))}
      {yLabels.map((l: any, i) => (
        <text key={i} x={l[1]} y={l[2]} dy="0.35em" {...t} fontSize={l[3]} textAnchor="middle" transform={`rotate(-90 ${l[1]} ${l[2]})`}>{l[0]}</text>
      ))}
      {headers.map((l: any, i) => (
        <text key={i} x={l[1]} y={l[2]} {...t} fontSize={l[4]} transform={`rotate(${l[3]} ${l[1]} ${l[2]})`}>{l[0]}</text>
      ))}
      {groupBars.map((b: any, i) => (
        <line key={i} x1={b[0]} x2={b[1]} y1={b[2]} y2={b[2]} stroke="#000" strokeWidth={4} />
      ))}
      {colorBars.map((c: any, i) => (
        <g key={i}>
          <rect x={c[0]} y={c[2]} width={c[1] - c[0]} height={c[3] - c[2]} fill="url(#zs)" />
          <text x={c[6]} y={c[8]} {...t} fontSize={c[11]} textAnchor="middle">{c[4]}</text>
          <text x={c[7]} y={c[8]} {...t} fontSize={c[11]} textAnchor="middle">{c[5]}</text>
          <text x={c[9]} y={c[10]} {...t} fontSize={20} textAnchor="middle">Z-score</text>
        </g>
      ))}
    </svg>
  );
}

export default function App() {
  return (
    <div style={{ position: "absolute", left: 0, top: 0, width: 1271, height: 2480, background: "#fff", overflow: "hidden" }}>
      {barPanels.map((p, i) => <BarPanel key={i} {...p} />)}
      {heatPanels.map((p, i) => <HeatPanel key={i} {...p} />)}
      <Overlay />
    </div>
  );
}
